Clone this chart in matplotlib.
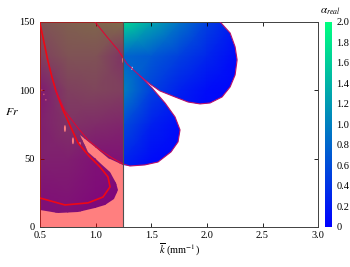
import matplotlib
matplotlib.use("Agg")
import matplotlib.pyplot as plt
from matplotlib.patches import Polygon, Rectangle, Ellipse

plt.rcParams["font.family"] = ["Liberation Serif", "DejaVu Serif"]
plt.rcParams["mathtext.fontset"] = "stix"
plt.rcParams["font.size"] = 7.5

# coarse grid of alpha_real
GRID_K = [0.5, 0.75, 1.0, 1.25, 1.5, 1.75, 2.0, 2.25, 2.5]
GRID_FR = [0, 25, 50, 75, 100, 125, 150]
ALPHA = [
    [0.2, 0.2, 0.1, 0.1, 0.1, 0.05, 0.05, 0.05, 0.05],
    [0.3, 0.35, 0.2, 0.1, 0.1, 0.05, 0.05, 0.05, 0.05],
    [0.5, 0.5, 0.3, 0.3, 0.1, 0.05, 0.05, 0.05, 0.05],
    [0.5, 0.8, 0.7, 0.6, 0.25, 0.1, 0.05, 0.05, 0.05],
    [0.4, 1.0, 1.1, 1.0, 0.5, 0.25, 0.1, 0.05, 0.05],
    [1.0, 1.3, 1.3, 0.8, 0.7, 0.5, 0.3, 0.1, 0.05],
    [1.3, 1.5, 1.6, 1.7, 1.3, 0.9, 0.5, 0.2, 0.1],
]

# outline of the region where alpha_real exists
FIELD_K = [0.5, 2.119, 2.209, 2.254, 2.272, 2.254, 2.209, 2.137, 2.029, 1.939, 1.831,
           1.714, 1.579, 1.489, 1.399, 1.507, 1.624, 1.714, 1.759, 1.741, 1.678, 1.561,
           1.444, 1.309, 1.246, 1.112, 0.995, 0.860, 0.932, 1.040, 1.130, 1.183, 1.20,
           1.165, 1.085, 0.995, 0.842, 0.662, 0.5]
FIELD_FR = [150, 150, 141.9, 131.7, 122.2, 111.2, 102.4, 95.1, 90.7, 90.0, 91.4,
            95.1, 99.5, 104.6, 110.5, 101.7, 90.7, 80.5, 71.0, 62.2, 54.9, 47.5,
            45.4, 44.6, 45.4, 50.5, 58.5, 67.3, 54.9, 46.8, 40.2, 32.2, 27.0,
            20.5, 16.1, 13.9, 11.0, 10.2, 12.4]

# red curves
LINE_A_K = [0.5, 0.536, 0.572, 0.608, 0.644, 0.707, 0.842, 0.932, 1.040, 1.112, 1.130,
            1.067, 0.932, 0.725, 0.5]
LINE_A_FR = [149.3, 135.4, 121.4, 109.7, 99.5, 85.6, 61.5, 52.7, 43.9, 36.6, 29.3,
             21.9, 17.6, 16.1, 21.2]
LINE_B_K = [0.644, 0.725, 0.842, 0.932, 1.040, 1.148, 1.246, 1.309, 1.444, 1.561, 1.678,
            1.741, 1.759, 1.714, 1.624, 1.507, 1.399]
LINE_B_FR = [99.5, 84.8, 72.4, 63.6, 56.3, 50.5, 46.1, 44.6, 45.4, 47.5, 54.9,
             62.2, 71.0, 80.5, 90.7, 101.7, 110.5]
LINE_C_K = [0.995, 1.103, 1.202, 1.283, 1.399, 1.489, 1.579, 1.714, 1.831, 1.939, 2.029,
            2.137, 2.209, 2.254, 2.272, 2.254, 2.209, 2.119]
LINE_C_FR = [150, 139.0, 129.5, 119.3, 110.5, 104.6, 99.5, 95.1, 91.4, 90.0, 90.7,
             95.1, 102.4, 111.2, 122.2, 131.7, 141.9, 150]

# small holes (k, Fr, width, height)
HOLES = [(1.247, 122.0, 0.014, 4.0), (1.328, 116.0, 0.012, 2.5),
         (0.725, 72.0, 0.018, 5.0), (0.797, 63.0, 0.018, 5.0), (0.860, 61.0, 0.012, 2.5),
         (0.518, 100.0, 0.008, 1.2), (0.536, 97.0, 0.008, 1.2), (0.554, 93.0, 0.008, 1.2)]

CBAR_TICKS = [0, 0.2, 0.4, 0.6, 0.8, 1.0, 1.2, 1.4, 1.6, 1.8, 2.0]
CBAR_LABELS = ["0", "0.2", "0.4", "0.6", "0.8", "1.0", "1.2", "1.4", "1.6", "1.8", "2.0"]
X_TICKS = [0.5, 1.0, 1.5, 2.0, 2.5, 3.0]
Y_TICKS = [0, 50, 100, 150]

fig = plt.figure(figsize=(3.5, 2.67), dpi=100)
ax = fig.add_axes([0.114, 0.150, 0.795, 0.768])
cax = fig.add_axes([0.929, 0.150, 0.02, 0.768])

field = Polygon(list(zip(FIELD_K, FIELD_FR)), closed=True, facecolor="none",
                edgecolor="none")
ax.add_patch(field)
mesh = ax.pcolormesh(GRID_K, GRID_FR, ALPHA, cmap="winter", vmin=0, vmax=2,
                     shading="gouraud", zorder=1)
mesh.set_clip_path(field)

for k, fr, w, h in HOLES:
    ax.add_patch(Ellipse((k, fr), w, h, facecolor="white", edgecolor="none", zorder=2))

# outlines: red under the overlay, purplish where they sit on the blue lobes
ax.plot(LINE_A_K, LINE_A_FR, color="#e0102a", lw=1.2, zorder=3)
ax.plot(LINE_B_K, LINE_B_FR, color="#b8106a", lw=0.8, zorder=3)
ax.plot(LINE_C_K, LINE_C_FR, color="#b8106a", lw=0.8, zorder=3)

ax.add_patch(Rectangle((0.5, 0), 0.75, 150, facecolor="red", alpha=0.5,
                       edgecolor="none", zorder=4))
ax.axvline(1.25, color="#505050", lw=0.8, zorder=5)

ax.set_xlim(0.5, 3.0)
ax.set_ylim(0, 150)
ax.set_xticks(X_TICKS)
ax.set_xticklabels(["0.5", "1.0", "1.5", "2.0", "2.5", "3.0"])
ax.set_yticks(Y_TICKS)
ax.tick_params(direction="in", top=True, right=True, length=3, width=0.6, pad=3)
ax.tick_params(axis="y", pad=4)
for s in ax.spines.values():
    s.set_linewidth(0.7)
    s.set_color("#404040")
ax.set_xlabel(r"$\overline{k}$ (mm$^{-1}$)", labelpad=1)
ax.set_ylabel(r"$Fr$", rotation=0, fontsize=8.5)
ax.yaxis.set_label_coords(-0.10, 0.53)

cb = fig.colorbar(mesh, cax=cax)
cb.set_ticks(CBAR_TICKS)
cb.set_ticklabels(CBAR_LABELS)
cb.outline.set_visible(False)
cax.tick_params(length=0, pad=3)
fig.text(0.945, 0.955, r"$\alpha_{real}$", ha="center", va="center", fontsize=8)

fig.savefig("out.png", dpi=100)
